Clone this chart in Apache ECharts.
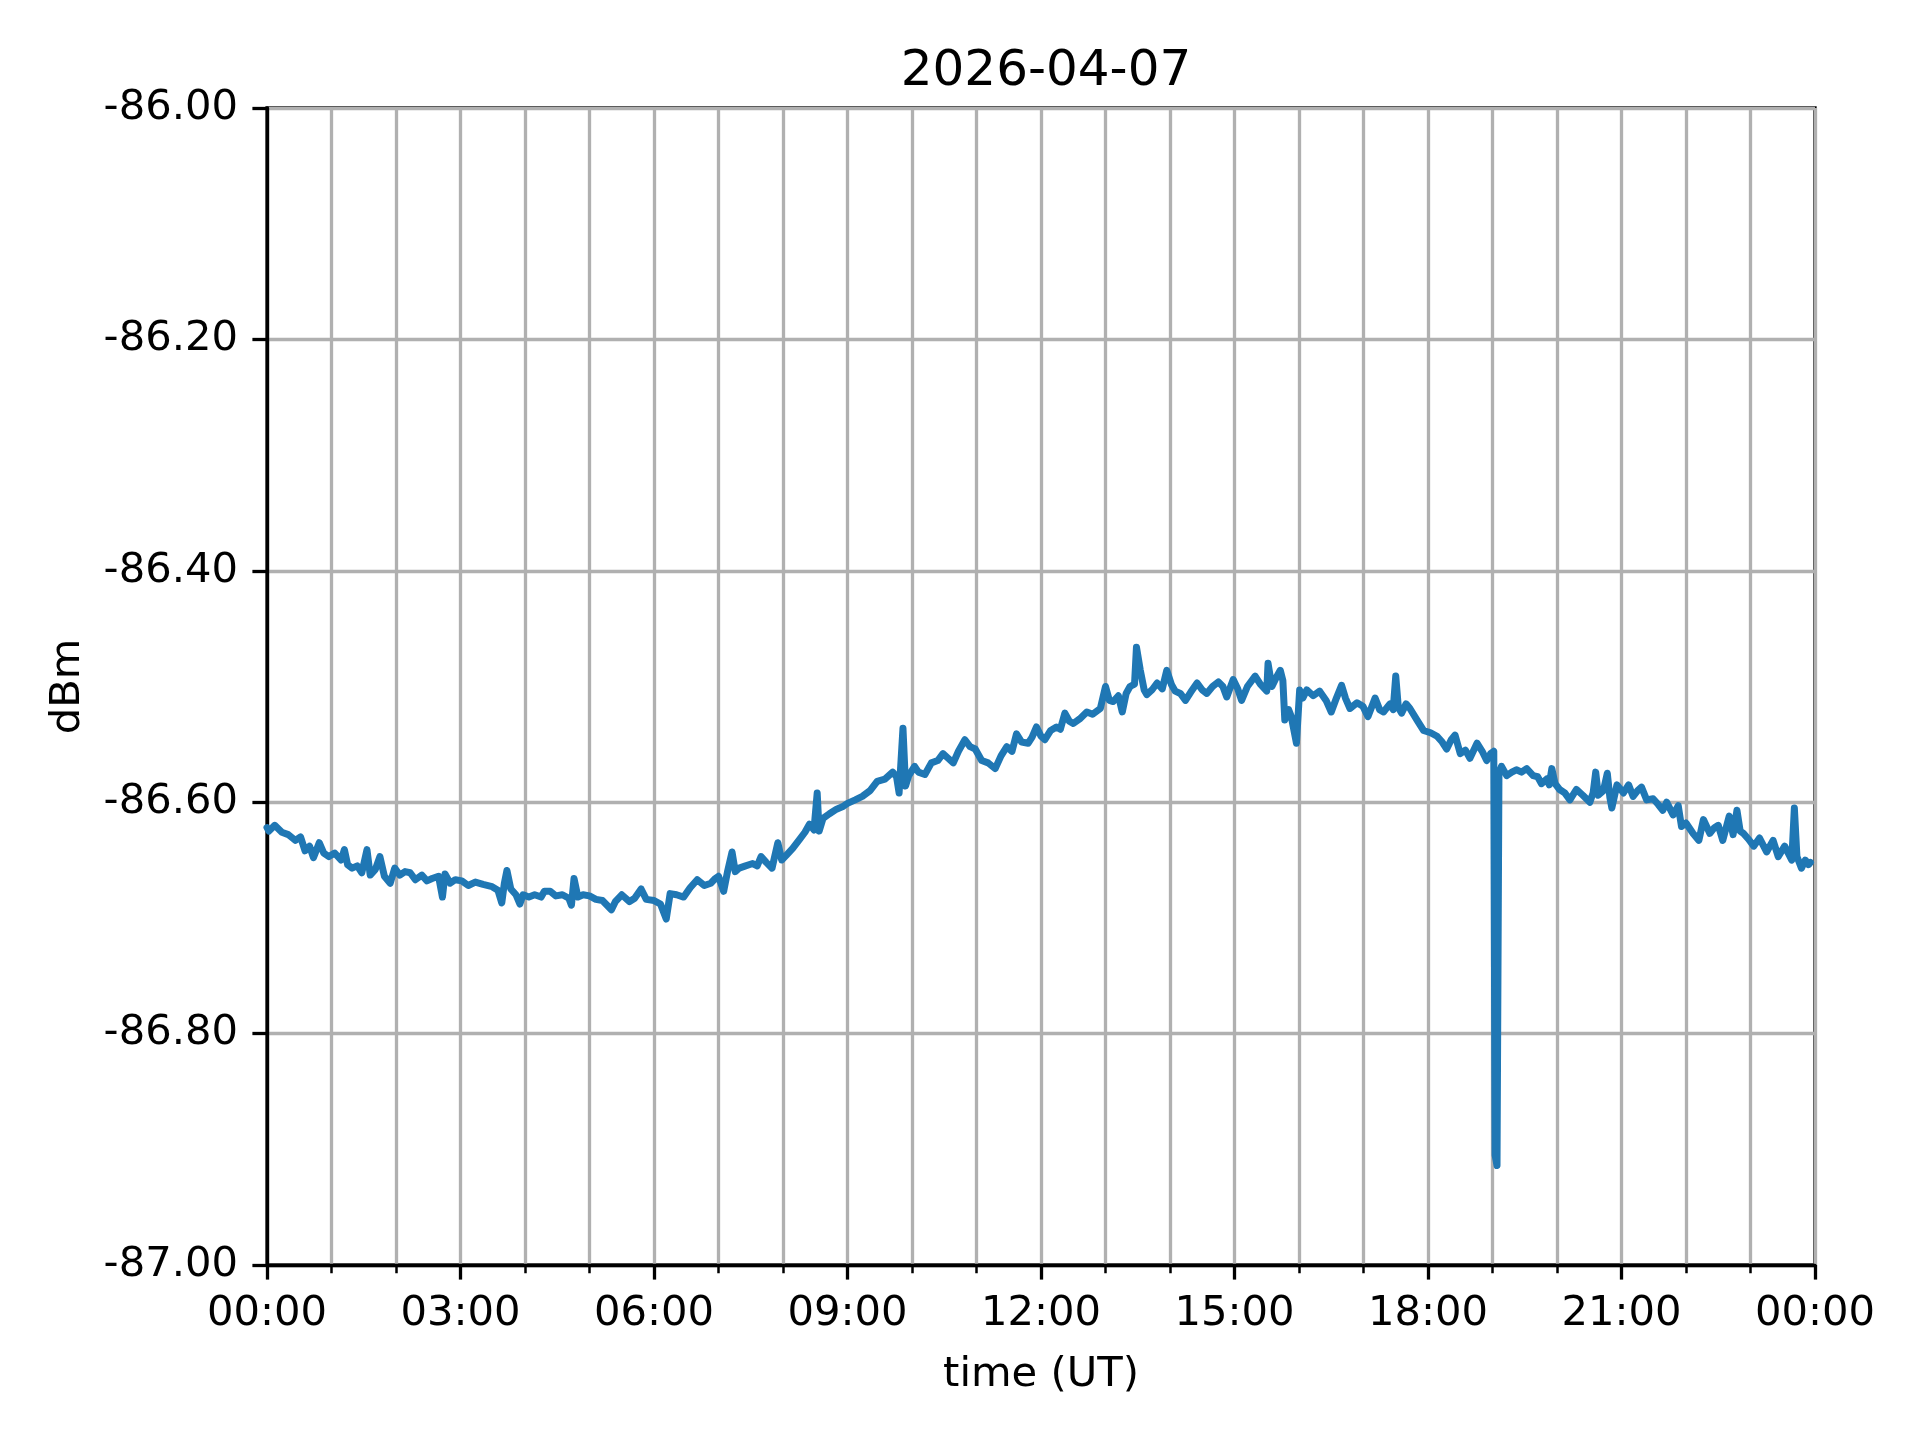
<!DOCTYPE html>
<html>
<head>
<meta charset="utf-8">
<script src="https://cdn.jsdelivr.net/npm/echarts@6/dist/echarts.min.js"></script>
<style>
html,body{margin:0;padding:0;background:#fff;}
#chart{width:1920px;height:1440px;}
</style>
</head>
<body>
<div id="chart"></div>
<script>
// ---- data (time in hours UT, signal in dBm) ----
const titleText = "2026-04-07";
const xLabel = "time (UT)";
const yLabel = "dBm";
const yTicks = [-87.0, -86.8, -86.6, -86.4, -86.2, -86.0];
const xTickLabels = ["00:00","03:00","06:00","09:00","12:00","15:00","18:00","21:00","00:00"];

const hours = [
0.00,0.03,0.12,0.23,0.33,0.44,0.52,0.59,0.66,0.72,0.81,0.88,0.96,1.05,1.15,1.20,1.25,1.32,1.40,1.47,
1.55,1.60,1.68,1.75,1.82,1.91,1.98,2.06,2.14,2.22,2.30,2.40,2.48,2.56,2.66,2.72,2.76,2.84,2.92,3.02,
3.12,3.23,3.35,3.49,3.58,3.64,3.68,3.72,3.78,3.86,3.92,3.97,4.06,4.15,4.25,4.30,4.39,4.48,4.58,4.68,
4.72,4.76,4.82,4.90,5.00,5.10,5.20,5.34,5.40,5.50,5.62,5.70,5.80,5.88,6.00,6.10,6.19,6.25,6.35,6.46,
6.56,6.67,6.78,6.88,6.95,7.00,7.08,7.14,7.21,7.26,7.32,7.42,7.53,7.60,7.66,7.74,7.83,7.92,7.98,8.05,
8.15,8.26,8.34,8.41,8.48,8.53,8.56,8.62,8.72,8.83,8.92,9.00,9.12,9.23,9.35,9.46,9.58,9.70,9.76,9.80,
9.86,9.90,9.95,10.04,10.10,10.20,10.30,10.40,10.48,10.56,10.64,10.72,10.82,10.90,10.98,11.08,11.18,11.29,11.38,11.47,
11.55,11.62,11.70,11.80,11.86,11.93,12.00,12.06,12.15,12.24,12.30,12.37,12.44,12.50,12.60,12.71,12.80,12.92,13.00,13.06,
13.12,13.20,13.26,13.32,13.38,13.45,13.48,13.54,13.60,13.64,13.72,13.80,13.88,13.95,14.02,14.08,14.16,14.24,14.32,14.42,
14.50,14.57,14.66,14.75,14.82,14.88,14.98,15.05,15.11,15.20,15.32,15.40,15.50,15.52,15.58,15.65,15.71,15.75,15.78,15.84,
15.88,15.96,16.01,16.06,16.12,16.22,16.32,16.42,16.50,16.58,16.66,16.72,16.79,16.90,16.99,17.07,17.18,17.25,17.31,17.41,
17.46,17.50,17.54,17.59,17.66,17.72,17.83,17.93,18.04,18.14,18.22,18.29,18.36,18.42,18.50,18.58,18.65,18.76,18.84,18.91,
18.97,19.02,19.04,19.07,19.10,19.14,19.22,19.30,19.37,19.45,19.53,19.63,19.70,19.76,19.84,19.88,19.92,19.97,20.04,20.12,
20.20,20.30,20.40,20.51,20.56,20.60,20.64,20.67,20.72,20.78,20.82,20.85,20.93,21.03,21.11,21.18,21.25,21.31,21.39,21.49,
21.57,21.64,21.70,21.80,21.88,21.93,22.00,22.11,22.20,22.27,22.37,22.44,22.50,22.57,22.67,22.73,22.79,22.84,22.89,22.97,
23.05,23.14,23.25,23.35,23.43,23.53,23.64,23.68,23.72,23.79,23.85,23.90,23.93
];

const dbm = [
-86.622,-86.625,-86.620,-86.626,-86.628,-86.633,-86.630,-86.642,-86.638,-86.648,-86.635,-86.644,-86.647,-86.644,-86.650,-86.641,-86.654,-86.657,-86.655,-86.661,
-86.641,-86.663,-86.658,-86.647,-86.664,-86.670,-86.657,-86.663,-86.660,-86.661,-86.667,-86.663,-86.668,-86.666,-86.664,-86.682,-86.662,-86.670,-86.667,-86.668,
-86.672,-86.669,-86.671,-86.673,-86.676,-86.687,-86.670,-86.659,-86.675,-86.680,-86.688,-86.680,-86.682,-86.680,-86.682,-86.677,-86.677,-86.681,-86.680,-86.683,
-86.689,-86.666,-86.682,-86.680,-86.681,-86.684,-86.685,-86.693,-86.686,-86.680,-86.686,-86.683,-86.675,-86.684,-86.685,-86.688,-86.701,-86.679,-86.680,-86.682,
-86.674,-86.667,-86.672,-86.670,-86.666,-86.664,-86.677,-86.660,-86.643,-86.660,-86.657,-86.655,-86.653,-86.655,-86.647,-86.652,-86.657,-86.635,-86.650,-86.646,
-86.640,-86.632,-86.626,-86.619,-86.624,-86.592,-86.625,-86.614,-86.610,-86.606,-86.604,-86.601,-86.598,-86.595,-86.590,-86.582,-86.580,-86.574,-86.578,-86.592,
-86.536,-86.586,-86.577,-86.569,-86.574,-86.576,-86.566,-86.564,-86.558,-86.562,-86.566,-86.556,-86.546,-86.552,-86.554,-86.564,-86.566,-86.571,-86.560,-86.552,
-86.556,-86.541,-86.548,-86.549,-86.544,-86.535,-86.543,-86.546,-86.538,-86.535,-86.537,-86.523,-86.530,-86.532,-86.528,-86.522,-86.524,-86.519,-86.500,-86.512,
-86.513,-86.508,-86.522,-86.506,-86.500,-86.498,-86.466,-86.486,-86.503,-86.507,-86.503,-86.497,-86.502,-86.486,-86.498,-86.504,-86.506,-86.512,-86.505,-86.497,
-86.503,-86.506,-86.500,-86.496,-86.500,-86.509,-86.494,-86.502,-86.512,-86.500,-86.491,-86.498,-86.504,-86.480,-86.500,-86.492,-86.486,-86.495,-86.529,-86.520,
-86.526,-86.549,-86.503,-86.510,-86.503,-86.508,-86.504,-86.512,-86.522,-86.510,-86.499,-86.510,-86.519,-86.514,-86.517,-86.526,-86.510,-86.520,-86.522,-86.515,
-86.520,-86.491,-86.518,-86.523,-86.515,-86.519,-86.529,-86.538,-86.540,-86.543,-86.548,-86.554,-86.546,-86.542,-86.558,-86.555,-86.562,-86.549,-86.556,-86.564,
-86.558,-86.556,-86.905,-86.914,-86.575,-86.569,-86.577,-86.574,-86.572,-86.574,-86.571,-86.577,-86.578,-86.584,-86.580,-86.585,-86.571,-86.584,-86.589,-86.592,
-86.598,-86.589,-86.594,-86.600,-86.592,-86.574,-86.594,-86.594,-86.590,-86.575,-86.596,-86.605,-86.585,-86.592,-86.585,-86.595,-86.590,-86.587,-86.598,-86.597,
-86.602,-86.607,-86.600,-86.611,-86.603,-86.621,-86.618,-86.627,-86.633,-86.615,-86.627,-86.622,-86.620,-86.633,-86.612,-86.628,-86.607,-86.625,-86.627,-86.632,
-86.638,-86.631,-86.643,-86.633,-86.647,-86.638,-86.650,-86.605,-86.647,-86.657,-86.650,-86.654,-86.652
];

const seriesData = hours.map((h, i) => [h, dbm[i]]);

const FONT = "DejaVu Sans";
const chart = echarts.init(document.getElementById('chart'), null, {renderer: 'canvas'});

chart.setOption({
  backgroundColor: '#ffffff',
  animation: false,
  textStyle: {fontFamily: FONT},
  title: {
    text: titleText,
    left: 1041,
    top: 42,
    textAlign: 'center',
    textStyle: {fontFamily: FONT, fontSize: 50, fontWeight: 'normal', color: '#000'}
  },
  grid: {
    left: 267, right: 105, top: 108, bottom: 175,
    show: true, borderColor: '#000', borderWidth: 3.3, backgroundColor: 'transparent'
  },
  xAxis: [
    {
      type: 'value', min: 0, max: 24, interval: 3, position: 'bottom',
      name: xLabel, nameLocation: 'middle', nameGap: 89,
      nameTextStyle: {fontFamily: FONT, fontSize: 41.7, color: '#000'},
      axisLine: {show: true, lineStyle: {color: '#000', width: 3.3}},
      axisTick: {show: true, inside: false, length: 14.6, lineStyle: {color: '#000', width: 3.3}},
      axisLabel: {
        show: true, margin: 28, fontFamily: FONT, fontSize: 41.7, color: '#000',
        formatter: v => xTickLabels[Math.round(v / 3)]
      },
      splitLine: {show: false}
    },
    {
      type: 'value', min: 0, max: 24, interval: 1, position: 'bottom',
      axisLine: {show: false},
      axisTick: {show: true, inside: false, length: 8.3, lineStyle: {color: '#000', width: 2.5}},
      axisLabel: {show: false},
      splitLine: {show: true, lineStyle: {color: '#b0b0b0', width: 3.3}}
    }
  ],
  yAxis: {
    type: 'value', min: yTicks[0], max: yTicks[yTicks.length - 1], interval: 0.2,
    name: yLabel, nameLocation: 'middle', nameGap: 178, nameRotate: 90,
    nameTextStyle: {fontFamily: FONT, fontSize: 41.7, color: '#000'},
    axisLine: {show: true, lineStyle: {color: '#000', width: 3.3}},
    axisTick: {show: true, inside: false, length: 14.6, lineStyle: {color: '#000', width: 3.3}},
    axisLabel: {
      show: true, margin: 29, fontFamily: FONT, fontSize: 41.7, color: '#000',
      formatter: v => v.toFixed(2)
    },
    splitLine: {show: true, lineStyle: {color: '#b0b0b0', width: 3.3}}
  },
  series: [{
    type: 'line',
    xAxisIndex: 0,
    data: seriesData,
    showSymbol: false,
    symbol: 'none',
    lineStyle: {color: '#1f77b4', width: 7, join: 'round', cap: 'round'},
    z: 3
  }]
});
</script>
</body>
</html>
